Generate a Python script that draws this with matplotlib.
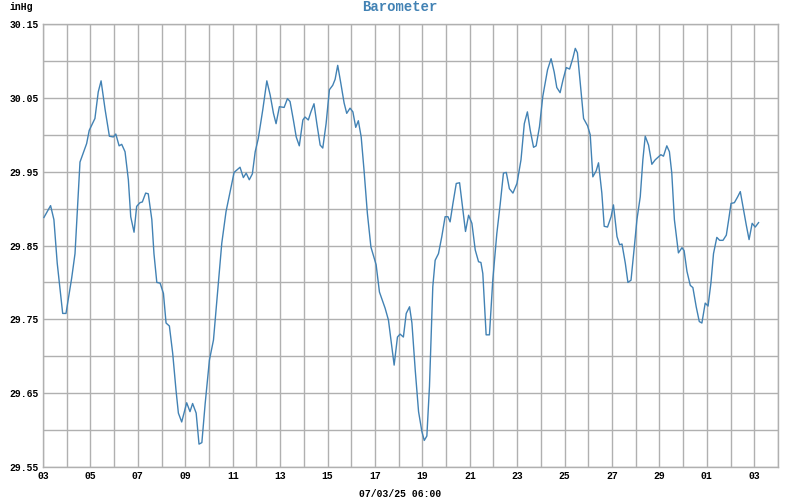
import matplotlib
matplotlib.use("Agg")
from matplotlib import pyplot as plt

# 时间: 从 6月3日 00:00 起的天数
days = [0.04, 0.32, 0.46, 0.60, 0.83, 0.97, 1.21, 1.35, 1.56, 1.84, 1.95, 2.19, 2.33, 2.45, 2.62,
        2.80, 2.97, 3.07, 3.21, 3.32, 3.46, 3.60, 3.70, 3.84, 3.95, 4.09, 4.19, 4.33, 4.44, 4.59,
        4.68, 4.80, 4.94, 5.08, 5.19, 5.33, 5.47, 5.61, 5.71, 5.85, 6.06, 6.20, 6.31, 6.46, 6.58,
        6.70, 6.84, 7.02, 7.19, 7.36, 7.54, 7.72, 7.92, 8.06, 8.31, 8.45, 8.57, 8.70, 8.83, 8.95,
        9.08, 9.27, 9.44, 9.58, 9.72, 9.83, 9.97, 10.17, 10.31, 10.42, 10.56, 10.68, 10.81, 10.96,
        11.05, 11.19, 11.30, 11.43, 11.55, 11.69, 11.80, 11.94, 12.08, 12.22, 12.32, 12.43, 12.56,
        12.70, 12.81, 12.95, 13.07, 13.19, 13.30, 13.42, 13.54, 13.68, 13.83, 14.05, 14.19, 14.43,
        14.57, 14.71, 14.81, 14.95, 15.06, 15.20, 15.32, 15.46, 15.56, 15.70, 15.84, 15.98, 16.08,
        16.19, 16.30, 16.44, 16.54, 16.68, 16.82, 16.96, 17.08, 17.17, 17.29, 17.43, 17.57, 17.71,
        17.82, 17.95, 18.09, 18.23, 18.37, 18.47, 18.55, 18.69, 18.83, 18.97, 19.14, 19.28, 19.42,
        19.54, 19.67, 19.82, 19.99, 20.16, 20.30, 20.43, 20.55, 20.69, 20.80, 20.94, 21.08, 21.28,
        21.43, 21.56, 21.67, 21.81, 21.93, 22.07, 22.21, 22.35, 22.45, 22.54, 22.66, 22.80, 22.97,
        23.08, 23.19, 23.33, 23.43, 23.57, 23.67, 23.81, 23.96, 24.06, 24.21, 24.32, 24.42, 24.56,
        24.67, 24.80, 24.94, 25.05, 25.19, 25.30, 25.40, 25.54, 25.68, 25.82, 25.96, 26.06, 26.17,
        26.31, 26.42, 26.52, 26.63, 26.80, 26.95, 27.04, 27.16, 27.30, 27.41, 27.55, 27.68, 27.79,
        27.93, 28.05, 28.17, 28.28, 28.42, 28.54, 28.68, 28.82, 28.92, 29.02, 29.16, 29.30, 29.41,
        29.52, 29.66, 29.78, 29.91, 30.04, 30.18]

# 气压 (inHg)
pressure = [29.888, 29.904, 29.885, 29.826, 29.758, 29.758, 29.806, 29.839, 29.963, 29.988, 30.006,
            30.022, 30.058, 30.073, 30.034, 29.998, 29.997, 30.001, 29.985, 29.987, 29.977, 29.939,
            29.889, 29.868, 29.903, 29.908, 29.909, 29.921, 29.920, 29.885, 29.839, 29.800, 29.799,
            29.785, 29.745, 29.741, 29.704, 29.654, 29.623, 29.611, 29.637, 29.625, 29.636, 29.623,
            29.581, 29.583, 29.636, 29.695, 29.722, 29.785, 29.853, 29.896, 29.927, 29.949, 29.956,
            29.942, 29.948, 29.939, 29.947, 29.977, 29.995, 30.034, 30.073, 30.054, 30.029, 30.015,
            30.038, 30.037, 30.049, 30.045, 30.020, 29.997, 29.985, 30.020, 30.024, 30.020, 30.031,
            30.042, 30.015, 29.986, 29.982, 30.015, 30.061, 30.067, 30.075, 30.094, 30.070, 30.043,
            30.029, 30.036, 30.031, 30.010, 30.019, 29.997, 29.952, 29.894, 29.848, 29.824, 29.787,
            29.765, 29.749, 29.713, 29.688, 29.726, 29.730, 29.726, 29.758, 29.767, 29.745, 29.681,
            29.625, 29.598, 29.586, 29.592, 29.659, 29.794, 29.830, 29.839, 29.862, 29.889, 29.889,
            29.882, 29.907, 29.934, 29.935, 29.898, 29.869, 29.891, 29.880, 29.844, 29.828, 29.827,
            29.812, 29.729, 29.729, 29.803, 29.866, 29.905, 29.948, 29.949, 29.927, 29.921, 29.934,
            29.966, 30.015, 30.031, 30.006, 29.983, 29.985, 30.011, 30.052, 30.088, 30.103, 30.085,
            30.064, 30.057, 30.074, 30.091, 30.089, 30.104, 30.117, 30.111, 30.070, 30.022, 30.012,
            30.000, 29.943, 29.951, 29.962, 29.921, 29.876, 29.875, 29.889, 29.905, 29.862, 29.851,
            29.852, 29.826, 29.800, 29.803, 29.848, 29.885, 29.916, 29.966, 29.998, 29.986, 29.960,
            29.966, 29.970, 29.973, 29.971, 29.985, 29.977, 29.948, 29.885, 29.840, 29.847, 29.843,
            29.815, 29.796, 29.793, 29.767, 29.747, 29.745, 29.772, 29.768, 29.799, 29.839, 29.861,
            29.857, 29.857, 29.864, 29.885, 29.907, 29.908, 29.916, 29.923, 29.903, 29.878, 29.858,
            29.880, 29.875, 29.881]

# x 刻度 (每两天一个)
x_ticks = list(range(0, 31, 2))
x_labels = ["03", "05", "07", "09", "11", "13", "15", "17", "19", "21", "23", "25", "27", "29",
            "01", "03"]
y_ticks = [29.55, 29.65, 29.75, 29.85, 29.95, 30.05, 30.15]
y_labels = ["29.55", "29.65", "29.75", "29.85", "29.95", "30.05", "30.15"]

font = ["Liberation Mono", "DejaVu Sans Mono"]
line_color = "#4282b4"
grid_color = "#b0b0b0"

fig = plt.figure(figsize=(8, 5), dpi=100)
ax = fig.add_axes([43 / 800, 1 - 467 / 500, 735 / 800, 443 / 500])

# 网格: 每天一条竖线, 每 0.05 一条横线
for d in range(0, 32):
    ax.axvline(d, color=grid_color, lw=1.0, zorder=1)
for i in range(13):
    ax.axhline(29.55 + i * 0.05, color=grid_color, lw=1.0, zorder=1)

ax.plot(days, pressure, color=line_color, lw=1.0, zorder=3)

ax.set_xlim(0, 31)
ax.set_ylim(29.55, 30.15)
ax.set_xticks(x_ticks)
ax.set_xticklabels(x_labels, family=font, fontweight="bold", fontsize=7)
ax.set_yticks(y_ticks)
ax.set_yticklabels(y_labels, family=font, fontweight="bold", fontsize=7)
ax.tick_params(length=0, pad=3)
for s in ax.spines.values():
    s.set_color(grid_color)
    s.set_linewidth(1.0)

# 标题和描述
fig.text(0.5, 1 - 7 / 500, "Barometer", ha="center", va="center", family=font,
         fontweight="bold", fontsize=10, color=line_color)
fig.text(10 / 800, 1 - 7 / 500, "inHg", ha="left", va="center", family=font,
         fontweight="bold", fontsize=7)
fig.text(0.5, 1 - 494 / 500, "07/03/25 06:00", ha="center", va="center", family=font,
         fontweight="bold", fontsize=7)

plt.savefig("out.png", dpi=100)
